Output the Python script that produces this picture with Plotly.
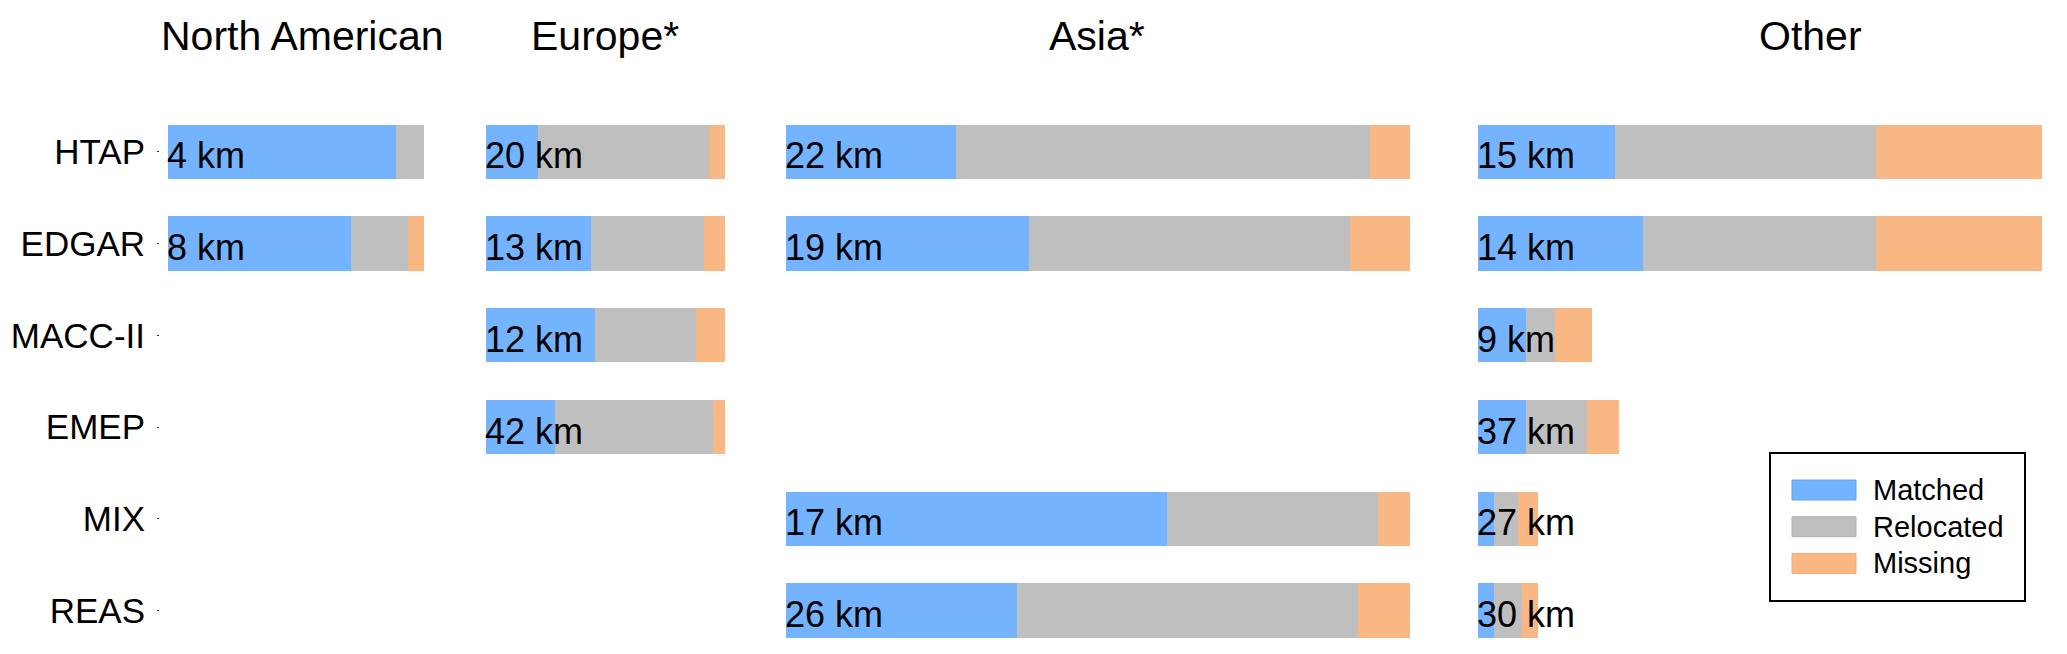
import plotly.graph_objects as go

# Inventories (rows) and regions (panels)
models = ["HTAP", "EDGAR", "MACC-II", "EMEP", "MIX", "REAS"]
regions = ["North American", "Europe*", "Asia*", "Other"]

# North American
na_models = ["HTAP", "EDGAR"]
na_matched = [228, 183]
na_relocated = [28, 57]
na_missing = [0, 16]
na_dist = [4, 8]

# Europe
eu_models = ["HTAP", "EDGAR", "MACC-II", "EMEP"]
eu_matched = [52, 105, 109, 69]
eu_relocated = [171, 113, 101, 158]
eu_missing = [16, 21, 29, 12]
eu_dist = [20, 13, 12, 42]

# Asia
as_models = ["HTAP", "EDGAR", "MIX", "REAS"]
as_matched = [170, 243, 381, 231]
as_relocated = [414, 321, 211, 341]
as_missing = [40, 60, 32, 52]
as_dist = [22, 19, 17, 26]

# Other
ot_models = ["HTAP", "EDGAR", "MACC-II", "EMEP", "MIX", "REAS"]
ot_matched = [137, 165, 48, 48, 16, 16]
ot_relocated = [261, 233, 29, 61, 24, 28]
ot_missing = [166, 166, 37, 32, 20, 16]
ot_dist = [15, 14, 9, 37, 27, 30]

panels = [
    (na_models, na_matched, na_relocated, na_missing, na_dist),
    (eu_models, eu_matched, eu_relocated, eu_missing, eu_dist),
    (as_models, as_matched, as_relocated, as_missing, as_dist),
    (ot_models, ot_matched, ot_relocated, ot_missing, ot_dist),
]

series_names = ["Matched", "Relocated", "Missing"]
colors = ["#73B3FF", "#BFBFBF", "#F9B883"]
edge_colors = ["#5FA3F5", "#B3B3B3", "#F2AC74"]

W, H = 2067, 654
FONT = "Arial, Liberation Sans, sans-serif"
panel_left = [160, 478, 778, 1470]   # px, left edge of each panel
pad = 8
title_x = [302, 605, 1097, 1810]

fig = go.Figure()
annotations = []
shapes = []
layout_axes = {}

for i, (mods, matched, relocated, missing, dist) in enumerate(panels):
    ax = "" if i == 0 else str(i + 1)
    for name, vals, col in zip(series_names, [matched, relocated, missing], colors):
        fig.add_trace(go.Bar(
            y=mods, x=vals, orientation="h",
            name=name, marker=dict(color=col, line=dict(width=0)),
            xaxis="x" + ax, yaxis="y",
            showlegend=False, hoverinfo="x+y+name"
        ))
    totals = [a + b + c for a, b, c in zip(matched, relocated, missing)]
    span = max(totals) + 2 * pad
    left = panel_left[i]
    layout_axes["xaxis" + ax] = dict(
        domain=[left / W, min((left + span) / W, 1.0)],
        range=[-pad, max(totals) + pad],
        visible=False, anchor="y", fixedrange=True
    )
    for m, d in zip(mods, dist):
        annotations.append(dict(
            x=0, y=m, xref="x" + ax, yref="y",
            text=f"{d} km", showarrow=False,
            xanchor="left", yanchor="middle", xshift=-3, yshift=-4,
            font=dict(size=36, color="black", family=FONT)
        ))
    annotations.append(dict(
        x=title_x[i] / W, y=1 - 36 / H, xref="paper", yref="paper",
        text=regions[i], showarrow=False, xanchor="center", yanchor="middle",
        font=dict(size=41, color="black", family=FONT)
    ))

# legend box drawn by hand so the swatches can be wide like the original
box = (1770, 453, 2025, 601)
shapes.append(dict(type="rect", xref="paper", yref="paper",
                   x0=box[0] / W, x1=box[2] / W, y0=1 - box[3] / H, y1=1 - box[1] / H,
                   line=dict(color="black", width=2), fillcolor="white", layer="above"))
for k, (name, col, ec) in enumerate(zip(series_names, colors, edge_colors)):
    cy = 490 + k * 36.7
    shapes.append(dict(type="rect", xref="paper", yref="paper",
                       x0=1792 / W, x1=1856 / W, y0=1 - (cy + 10) / H, y1=1 - (cy - 10) / H,
                       line=dict(color=ec, width=1), fillcolor=col, layer="above"))
    annotations.append(dict(
        x=1871 / W, y=1 - cy / H, xref="paper", yref="paper",
        text=name, showarrow=False, xanchor="left", yanchor="middle",
        font=dict(size=29, color="black", family=FONT)
    ))

fig.update_layout(
    width=W, height=H,
    margin=dict(l=0, r=0, t=0, b=0),
    paper_bgcolor="white", plot_bgcolor="white",
    barmode="stack", bargap=0.408,
    showlegend=False,
    font=dict(family=FONT, color="black"),
    yaxis=dict(
        type="category", categoryorder="array", categoryarray=models,
        domain=[0, 1 - 106 / H], range=[5.475, -0.5],
        anchor="x", showgrid=False, zeroline=False, showline=False,
        ticks="outside", ticklen=2, tickwidth=1, tickcolor="#333",
        ticklabelstandoff=5,
        tickfont=dict(size=35, color="black", family=FONT),
        automargin=False, fixedrange=True
    ),
    annotations=annotations,
    shapes=shapes,
    **layout_axes
)

# the page body has a default 8px margin; drop it so the figure fills the window
fig.write_html("out.html", config={"displayModeBar": False},
               post_script="document.body.style.margin='0';")
